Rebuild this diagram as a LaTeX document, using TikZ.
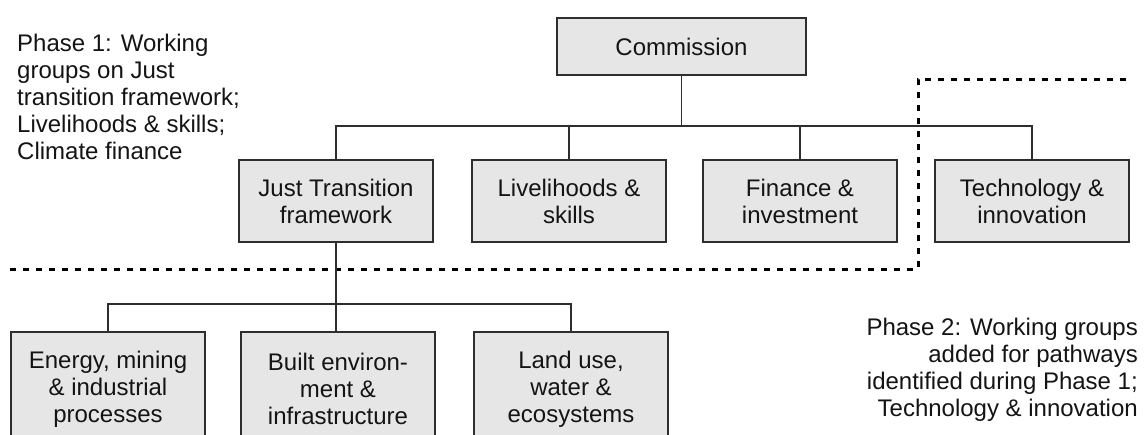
\documentclass[tikz,border=0pt]{standalone}
\usepackage{fontspec}
\setmainfont{Liberation Sans}
\definecolor{boxfill}{HTML}{E6E6E6}
\definecolor{boxline}{HTML}{2E2E2E}
\definecolor{txt}{HTML}{141414}
\begin{document}
\begin{tikzpicture}[x=1pt,y=-1pt,
  every node/.style={font=\fontsize{24}{27}\selectfont, text=txt},
  wg/.style={draw=boxline, fill=boxfill, line width=1.8pt, align=center, inner sep=0pt,
             minimum width=194pt, minimum height=82pt},
  wgtall/.style={wg, minimum height=114pt},
  link/.style={draw=boxline, line width=1.8pt},
  phase/.style={line width=3pt, dash pattern=on 6pt off 7pt, black}
]
\useasboundingbox (0,0) rectangle (1145,434);
\clip (0,0) rectangle (1145,434);
\fill[white] (0,0) rectangle (1145,434);

% phase boundary
\coordinate (d0) at (10,269);
\coordinate (d1) at (918,269);
\coordinate (d2) at (918,79);
\coordinate (d3) at (1132,79);
\draw[phase] (d0) -- (d1) -- (d2) -- (d3);

% nodes
\node[wg, minimum width=249pt, minimum height=57pt] (comm) at (681.5,46.5) {Commission};
\node[wg] (jt) at (336,201) {Just Transition\\framework};
\node[wg] (lv) at (569,201) {Livelihoods \&\\skills};
\node[wg] (fi) at (800,201) {Finance \&\\investment};
\node[wg] (te) at (1032,201) {Technology \&\\innovation};

\node[wgtall] (en) at (108,389) {Energy, mining\\\& industrial\\processes};
\node[wgtall] (bu) at (338,389) {Built environ-\\ment \&\\infrastructure};
\node[wgtall] (la) at (571,389) {Land use,\\water \&\\ecosystems};

% connectors
\coordinate (bus1) at (681.5,126);
\coordinate (bus2) at (336,304);
\draw[link] (comm.south) -- (bus1) -| (jt.north);
\draw[link] (bus1) -| (lv.north);
\draw[link] (bus1) -| (fi.north);
\draw[link] (bus1) -| (te.north);
\draw[link] (jt.south) -- (bus2) -| (en.north);
\draw[link] (bus2) -- (jt.south |- bu.north);
\draw[link] (bus2) -| (la.north);

% phase labels
\node[anchor=north west, align=left, inner sep=0pt] (p1) at (17,34)
  {Phase 1: Working\\groups on Just\\transition framework;\\Livelihoods \& skills;\\Climate finance};
\node[anchor=north east, align=right, inner sep=0pt] (p2) at (1138,318)
  {Phase 2: Working groups\\added for pathways\\identified during Phase 1;\\Technology \& innovation};
\end{tikzpicture}
\end{document}
